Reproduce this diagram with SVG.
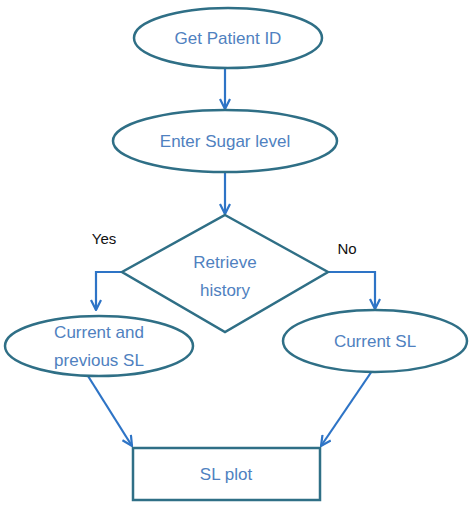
<svg xmlns="http://www.w3.org/2000/svg" width="469" height="509" viewBox="0 0 469 509">
<defs>
<marker id="arr" viewBox="0 0 12 12" refX="11" refY="6" markerWidth="12" markerHeight="12" markerUnits="userSpaceOnUse" orient="auto">
<polyline points="1,1 11,6 1,11" fill="none" stroke="#2e74c6" stroke-width="2.2"/>
</marker>
<style>
.shape{fill:#ffffff;stroke:#2f6f86;stroke-width:2.5}
.lbl{font-family:"Liberation Sans",Arial,sans-serif;font-size:17px;fill:#4f81c0;text-anchor:middle}
.yn{font-family:"Liberation Sans",Arial,sans-serif;font-size:15px;fill:#111111;text-anchor:middle}
.con{fill:none;stroke:#2e74c6;stroke-width:2.2;marker-end:url(#arr)}
</style>
</defs>
<rect width="469" height="509" fill="#ffffff"/>
<g id="connectors">
<line class="con" x1="225" y1="68" x2="225" y2="109"/>
<line class="con" x1="225" y1="172" x2="225" y2="214"/>
<polyline class="con" points="122,272 96,272 96,310"/>
<polyline class="con" points="328,272 375,272 375,309"/>
<line class="con" x1="88" y1="376" x2="132" y2="446"/>
<line class="con" x1="372" y1="371" x2="321" y2="446"/>
</g>
<g id="n1">
<ellipse class="shape" cx="228" cy="38" rx="94" ry="30"/>
<text class="lbl" x="228" y="44">Get Patient ID</text>
</g>
<g id="n2">
<ellipse class="shape" cx="225" cy="141" rx="112" ry="31"/>
<text class="lbl" x="225" y="147">Enter Sugar level</text>
</g>
<g id="n3">
<polygon class="shape" points="225,215 328,272 225,332 122,272"/>
<text class="lbl" x="225" y="268">Retrieve</text>
<text class="lbl" x="225" y="296">history</text>
</g>
<g id="n4">
<ellipse class="shape" cx="99" cy="346" rx="94" ry="30"/>
<text class="lbl" x="99" y="338">Current and</text>
<text class="lbl" x="99" y="366">previous SL</text>
</g>
<g id="n5">
<ellipse class="shape" cx="375" cy="341" rx="92" ry="31"/>
<text class="lbl" x="375" y="347">Current SL</text>
</g>
<g id="n6">
<rect class="shape" x="133" y="448" width="187" height="52"/>
<text class="lbl" x="226" y="480">SL plot</text>
</g>
<text class="yn" x="104" y="244">Yes</text>
<text class="yn" x="347" y="254">No</text>
</svg>
